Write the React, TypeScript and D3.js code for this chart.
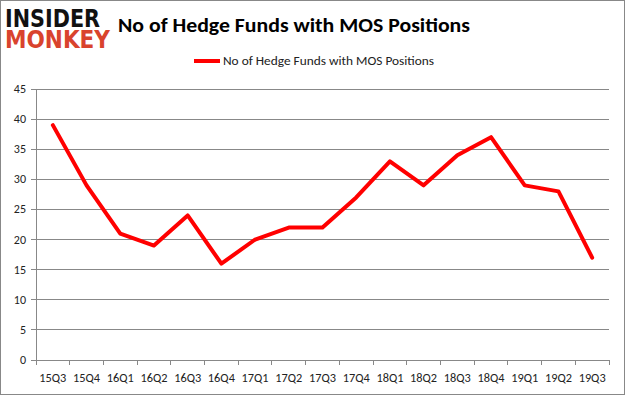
import React from "react";
import * as d3 from "d3";

const categories = ["15Q3","15Q4","16Q1","16Q2","16Q3","16Q4","17Q1","17Q2","17Q3","17Q4","18Q1","18Q2","18Q3","18Q4","19Q1","19Q2","19Q3"];
const values = [39,29,21,19,24,16,20,22,22,27,33,29,34,37,29,28,17];
const yTicks = [0,5,10,15,20,25,30,35,40,45];
const seriesName = "No of Hedge Funds with MOS Positions";
const title = "No of Hedge Funds with MOS Positions";

export default function App() {
  const W = 625, H = 395;
  const left = 36, right = 609, top = 89, bottom = 360;
  const x = d3.scaleBand().domain(categories).range([left, right]);
  const y = d3.scaleLinear().domain([0, 45]).range([bottom, top]);
  const line = d3.line<number>()
    .x((_, i) => (x(categories[i]) as number) + x.bandwidth() / 2)
    .y(d => y(d));
  const font = "Carlito, Lato, 'Open Sans', sans-serif";
  const tickEdges = categories.map(c => x(c) as number).concat([right]);
  return (
    <svg width={W} height={H} style={{ position: "absolute", left: 0, top: 0 }} fontFamily={font}>
      <rect x={0.5} y={0.5} width={W - 1} height={H - 1} fill="#fff" stroke="#888" />
      <text x={5} y={27} fontSize={25} fontWeight={900} fill="#111" fontFamily="'DejaVu Sans', sans-serif" textLength={95} lengthAdjust="spacingAndGlyphs">INSIDER</text>
      <text x={5} y={48} fontSize={25} fontWeight={900} fill="#d9432d" fontFamily="'DejaVu Sans', sans-serif" textLength={105} lengthAdjust="spacingAndGlyphs">MONKEY</text>
      <text x={118} y={32} fontSize={21} fontWeight={700} fill="#000" textLength={352} lengthAdjust="spacingAndGlyphs">{title}</text>
      <line x1={194} x2={220} y1={61} y2={61} stroke="#f00" strokeWidth={4} />
      <text x={223} y={65} fontSize={12} fill="#222" textLength={211} lengthAdjust="spacingAndGlyphs">{seriesName}</text>
      {yTicks.map(t => (
        <g key={t}>
          <line x1={left} x2={right} y1={y(t)} y2={y(t)} stroke="#888" strokeWidth={1} shapeRendering="crispEdges" />
          <line x1={left - 5} x2={left} y1={y(t)} y2={y(t)} stroke="#888" shapeRendering="crispEdges" />
          <text x={26} y={y(t) + 4} fontSize={12} textAnchor="end" fill="#222">{t}</text>
        </g>
      ))}
      <line x1={left} x2={left} y1={top} y2={bottom} stroke="#888" shapeRendering="crispEdges" />
      {tickEdges.map((e, i) => (
        <line key={i} x1={e} x2={e} y1={bottom} y2={bottom + 5} stroke="#888" shapeRendering="crispEdges" />
      ))}
      {categories.map(c => (
        <text key={c} x={(x(c) as number) + x.bandwidth() / 2} y={382} fontSize={11.5} textAnchor="middle" fill="#222" textLength={27} lengthAdjust="spacingAndGlyphs">{c}</text>
      ))}
      <path d={line(values) || ""} fill="none" stroke="#f00" strokeWidth={4} strokeLinejoin="round" strokeLinecap="round" />
    </svg>
  );
}
